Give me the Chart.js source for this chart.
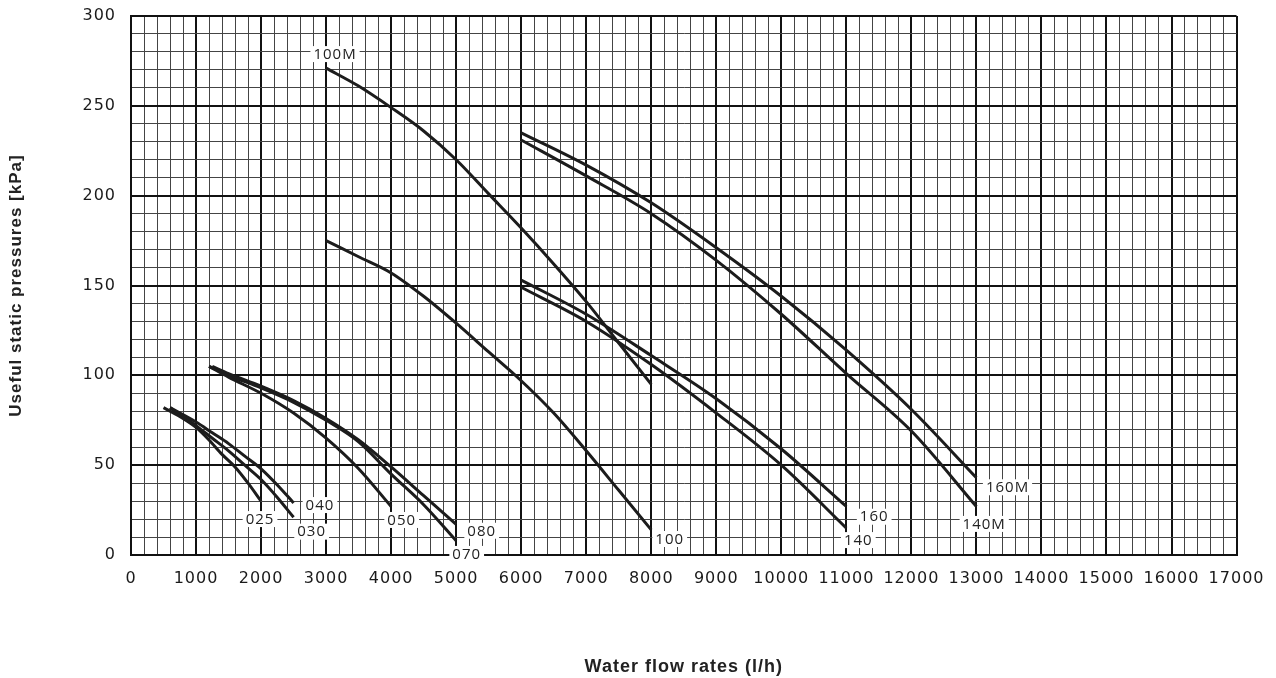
<!DOCTYPE html>
<html>
<head>
<meta charset="utf-8">
<script src="https://cdn.jsdelivr.net/npm/chart.js@4.4.1/dist/chart.umd.min.js"></script>
<style>
  html, body { margin: 0; padding: 0; background: #fff; }
  canvas { display: block; }
</style>
</head>
<body>
<canvas id="chartCanvas" width="1276" height="678"></canvas>
<script>
"use strict";

// pump curves, flow (l/h) vs useful static pressure (kPa)
const x025 = [500, 800, 1000, 1200, 1400, 1600, 1800, 2000];
const y025 = [82, 76, 71, 64, 56, 49, 40, 30];
const x030 = [600, 1000, 1250, 1500, 1750, 2000, 2250, 2500];
const y030 = [82, 72, 65, 58, 50, 42, 32, 21];
const x040 = [600, 1000, 1250, 1500, 1750, 2000, 2250, 2500];
const y040 = [82, 74, 68, 62, 55, 48, 39, 29];
const x050 = [1200, 1500, 2000, 2500, 3000, 3500, 4000];
const y050 = [105, 99, 90, 79, 65, 48, 27];
const x070 = [1200, 1500, 2000, 2500, 3000, 3500, 4000, 4500, 5000];
const y070 = [105, 100, 93, 85, 75, 63, 45, 28, 8];
const x080 = [1250, 1500, 2000, 2500, 3000, 3500, 4000, 4500, 5000];
const y080 = [105, 101, 94, 86, 76, 64, 49, 33, 17];
const x100 = [3000, 3500, 4000, 4500, 5000, 5500, 6000, 6500, 7000, 7500, 8000];
const y100 = [175, 166, 157, 144, 129, 113, 97, 79, 58, 36, 14];
const x100M = [3000, 3500, 4000, 4500, 5000, 5500, 6000, 6500, 7000, 7500, 8000];
const y100M = [271, 261, 249, 236, 220, 201, 182, 162, 141, 118, 95];
const x140 = [6000, 7000, 8000, 9000, 10000, 11000];
const y140 = [149, 130, 106, 79, 50, 15];
const x160 = [6000, 7000, 8000, 9000, 10000, 11000];
const y160 = [153, 134, 111, 87, 59, 27];
const x140M = [6000, 7000, 8000, 9000, 10000, 11000, 12000, 13000];
const y140M = [231, 211, 190, 164, 134, 101, 69, 27];
const x160M = [6000, 7000, 8000, 9000, 10000, 11000, 12000, 13000];
const y160M = [235, 217, 196, 171, 144, 114, 81, 43];

// curve tags, placed in data units
const tagText = ["025", "030", "040", "050", "070", "080", "100", "100M", "140", "160", "140M", "160M"];
const tagX = [1984, 2778, 2906, 4163, 5162, 5393, 8284, 3137, 11184, 11428, 13120, 13478];
const tagY = [20, 13, 27.8, 19.5, 0.6, 13.5, 8.9, 278.8, 8.3, 21.3, 17.3, 37.7];

const xTitle = "Water flow rates (l/h)";
const yTitle = "Useful static pressures [kPa]";

const curves = [
  [x025, y025], [x030, y030], [x040, y040], [x050, y050],
  [x070, y070], [x080, y080], [x100, y100], [x100M, y100M],
  [x140, y140], [x160, y160], [x140M, y140M], [x160M, y160M],
];

// the scanned chart has slightly spaced lettering
const spacingPlugin = {
  id: "spacing",
  beforeDraw(chart) { chart.ctx.letterSpacing = "1px"; },
  afterDraw(chart) { chart.ctx.letterSpacing = "0px"; },
};

const tagPlugin = {
  id: "curveTags",
  afterDatasetsDraw(chart) {
    const { ctx, scales } = chart;
    ctx.save();
    ctx.letterSpacing = "1px";
    ctx.font = "15px 'Open Sans'";
    ctx.textAlign = "center";
    ctx.textBaseline = "middle";
    tagText.forEach((t, i) => {
      const px = scales.x.getPixelForValue(tagX[i]);
      const py = scales.y.getPixelForValue(tagY[i]);
      const w = ctx.measureText(t).width;
      ctx.fillStyle = "#fff";
      ctx.fillRect(px - w / 2 - 3, py - 8, w + 6, 16);
      ctx.fillStyle = "#222";
      ctx.fillText(t, px, py + 0.5);
    });
    ctx.restore();
  },
};

const ctx = document.getElementById("chartCanvas").getContext("2d");

new Chart(ctx, {
  type: "line",
  data: {
    datasets: curves.map(([xs, ys], i) => ({
      label: tagText[i],
      data: xs.map((x, j) => ({ x: x, y: ys[j] })),
      borderColor: "#1c1c1c",
      borderWidth: 3,
      pointRadius: 0,
      fill: false,
      cubicInterpolationMode: "monotone",
    })),
  },
  options: {
    responsive: false,
    animation: false,
    events: [],
    layout: { padding: { top: 16, right: 39, left: 0, bottom: 0 } },
    plugins: {
      legend: { display: false },
      tooltip: { enabled: false },
    },
    scales: {
      x: {
        type: "linear",
        min: 0,
        max: 17000,
        afterFit: (scale) => { scale.height = 123; },
        border: { color: "#111", width: 2 },
        grid: {
          drawTicks: false,
          color: (c) => (c.tick && c.tick.value % 1000 === 0 ? "#111" : "#444"),
          lineWidth: (c) => (c.tick && c.tick.value % 1000 === 0 ? 2 : 1),
        },
        ticks: {
          stepSize: 200,
          autoSkip: false,
          maxRotation: 0,
          padding: 14,
          color: "#1a1a1a",
          font: { family: "'DejaVu Sans'", size: 16 },
          callback: (v) => (v % 1000 === 0 ? String(v) : ""),
        },
        title: {
          display: true,
          text: xTitle,
          color: "#222",
          font: { family: "'Liberation Sans'", size: 18, weight: "bold" },
          padding: { top: 4, bottom: 0 },
        },
      },
      y: {
        min: 0,
        max: 300,
        afterFit: (scale) => {
          scale.width = 131;
          scale.paddingTop = 0;
          scale.paddingBottom = 0;
        },
        border: { color: "#111", width: 2 },
        grid: {
          drawTicks: false,
          color: (c) => (c.tick && c.tick.value % 50 === 0 ? "#111" : "#444"),
          lineWidth: (c) => (c.tick && c.tick.value % 50 === 0 ? 2 : 1),
        },
        ticks: {
          stepSize: 10,
          autoSkip: false,
          padding: 15,
          color: "#1a1a1a",
          font: { family: "'DejaVu Sans'", size: 16 },
          callback: (v) => (v % 50 === 0 ? String(v) : ""),
        },
        title: {
          display: true,
          text: yTitle,
          color: "#222",
          font: { family: "'Liberation Sans'", size: 17, weight: "bold" },
          padding: { top: 6, bottom: 0 },
        },
      },
    },
  },
  plugins: [spacingPlugin, tagPlugin],
});
</script>
</body>
</html>
